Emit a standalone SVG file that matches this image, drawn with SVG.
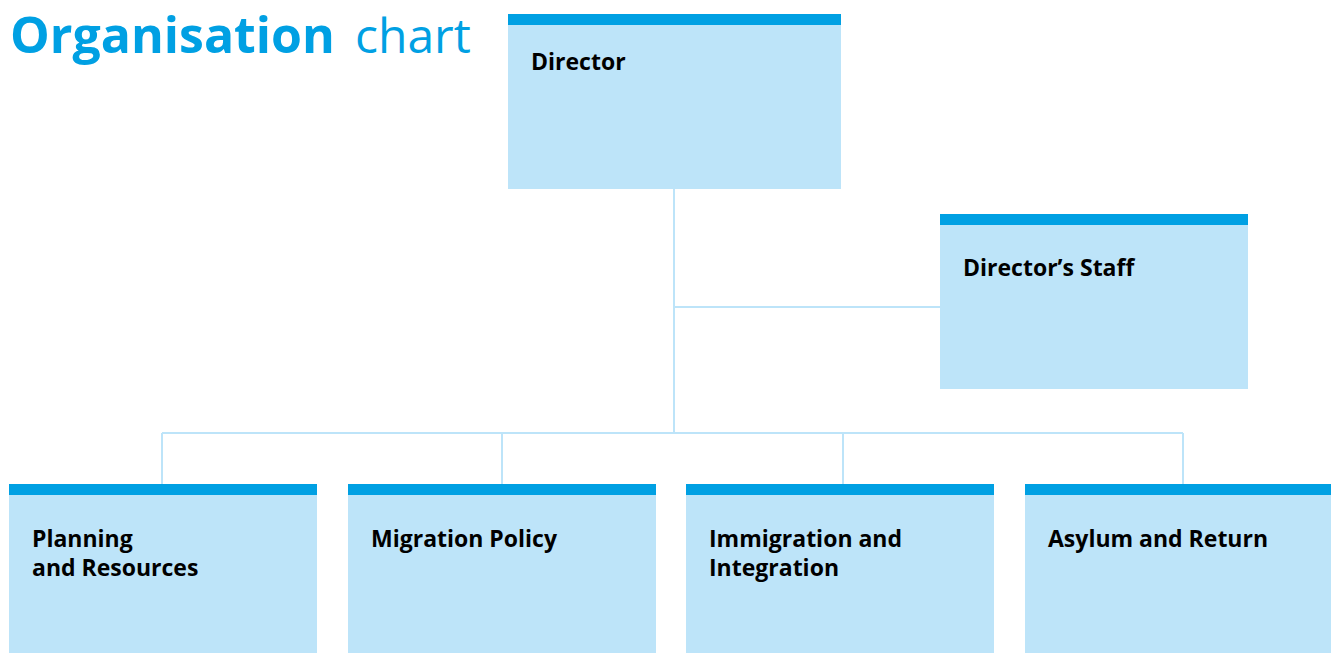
<svg xmlns="http://www.w3.org/2000/svg" width="1331" height="653" viewBox="0 0 1331 653">
<style>
.box{fill:#bde4f9}
.bar{fill:#00a0e3}
.lbl{font-family:"Open Sans","Liberation Sans",sans-serif;font-weight:700;font-size:23px;fill:#000}
.conn{stroke:#bde4f9;stroke-width:2;fill:none}
.title{font-family:"Open Sans","Liberation Sans",sans-serif;fill:#00a0e3}
</style>
<rect width="1331" height="653" fill="#fff"/>
<text class="title" x="10" y="53" font-size="50" font-weight="700">Organisation</text>
<text class="title" x="355" y="53" font-size="48">chart</text>
<g id="connectors">
<path class="conn" d="M674 189V433M674 307H940M162 433H1183M162 433V484M502 433V484M843 433V484M1183 433V484"/>
</g>
<g id="director">
<rect class="box" x="508" y="14" width="333" height="175"/>
<rect class="bar" x="508" y="14" width="333" height="11"/>
<text class="lbl" x="531" y="70">Director</text>
</g>
<g id="staff">
<rect class="box" x="940" y="214" width="308" height="175"/>
<rect class="bar" x="940" y="214" width="308" height="11"/>
<text class="lbl" x="963" y="276">Director’s Staff</text>
</g>
<g id="planning">
<rect class="box" x="9" y="484" width="308" height="169"/>
<rect class="bar" x="9" y="484" width="308" height="11"/>
<text class="lbl" x="32" y="547">Planning<tspan x="32" y="576">and Resources</tspan></text>
</g>
<g id="migration">
<rect class="box" x="348" y="484" width="308" height="169"/>
<rect class="bar" x="348" y="484" width="308" height="11"/>
<text class="lbl" x="371" y="547">Migration Policy</text>
</g>
<g id="immigration">
<rect class="box" x="686" y="484" width="308" height="169"/>
<rect class="bar" x="686" y="484" width="308" height="11"/>
<text class="lbl" x="709" y="547">Immigration and<tspan x="709" y="576">Integration</tspan></text>
</g>
<g id="asylum">
<rect class="box" x="1025" y="484" width="306" height="169"/>
<rect class="bar" x="1025" y="484" width="306" height="11"/>
<text class="lbl" x="1048" y="547">Asylum and Return</text>
</g>
</svg>
